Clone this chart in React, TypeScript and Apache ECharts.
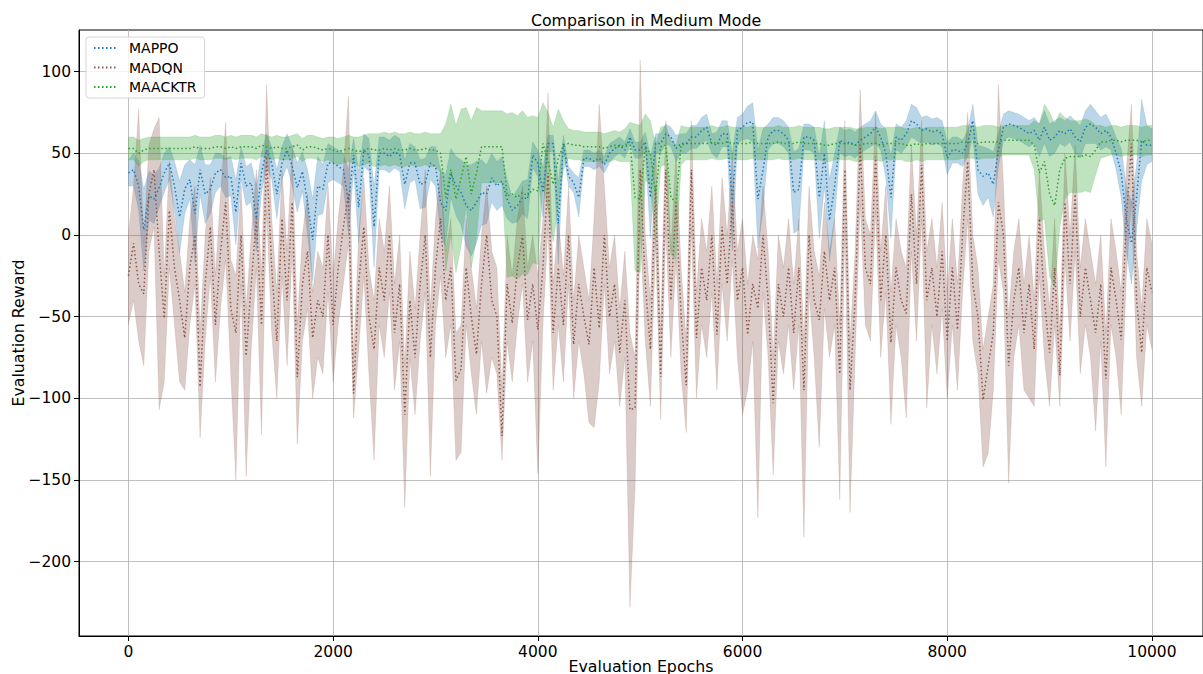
import React, { useEffect, useRef } from "react";
import * as echarts from "echarts";

// Evaluation epochs: one reading every 50 epochs, 0 … 10000
const EPOCH_STEP = 50;

const xTicks = [0, 2000, 4000, 6000, 8000, 10000];
const yTicks = [-200, -150, -100, -50, 0, 50, 100];

const seriesNames = ["MAPPO", "MADQN", "MAACKTR"];

// MAPPO mean reward
const mappoMean = [
  38, 40, 30, 3, 24, 22, 29, 38, 44, 30,
  11, 28, 34, 13, 40, 25, 28, 38, 40, 35,
  36, 14, 44, 30, 32, 10, 38, 52, 44, 25,
  44, 52, 42, 29, 39, 20, -3, 30, 28, 44,
  44, 42, 40, 20, 49, 17, 52, 49, 5, 50,
  50, 48, 51, 49, 31, 44, 44, 31, 32, 44,
  42, 20, 15, 38, 30, 26, 18, 15, 20, 26,
  25, 35, 30, 33, 22, 15, 18, 23, 22, 49,
  44, 26, 56, 56, 7, 56, 36, 32, 23, 47,
  47, 45, 47, 43, 50, 53, 55, 52, 60, 52,
  52, 57, 23, 56, 56, 62, 60, 53, 56, 56,
  60, 60, 64, 66, 56, 55, 62, 62, 20, 64,
  66, 69, 69, 22, 40, 60, 64, 64, 62, 58,
  26, 28, 60, 60, 58, 23, 50, 9, 30, 58,
  56, 57, 55, 58, 60, 62, 66, 60, 50, 23,
  60, 58, 62, 70, 68, 64, 65, 63, 64, 62,
  47, 52, 52, 50, 56, 70, 40, 36, 38, 31,
  52, 66, 68, 67, 66, 64, 62, 64, 58, 66,
  58, 60, 64, 62, 65, 60, 57, 66, 68, 66,
  62, 64, 60, 50, 38, 10, -5, 23, 58, 55,
  55,
];

// MAPPO spread (half width of shaded band)
const mappoStd = [
  8, 10, 15, 25, 15, 15, 12, 12, 10, 15,
  22, 15, 12, 30, 15, 18, 15, 12, 10, 12,
  12, 20, 10, 12, 12, 20, 12, 10, 10, 15,
  10, 10, 12, 15, 12, 20, 25, 18, 15, 12,
  10, 10, 10, 20, 10, 22, 10, 10, 25, 10,
  10, 10, 10, 10, 15, 12, 10, 15, 15, 10,
  12, 20, 22, 15, 18, 20, 25, 28, 25, 20,
  18, 15, 15, 15, 12, 8, 10, 10, 12, 8,
  8, 15, 5, 5, 25, 5, 6, 6, 12, 5,
  5, 5, 5, 5, 6, 5, 5, 5, 5, 5,
  5, 6, 25, 6, 6, 6, 6, 8, 6, 6,
  7, 7, 8, 8, 6, 8, 8, 8, 30, 8,
  8, 10, 12, 30, 25, 8, 8, 8, 8, 8,
  25, 25, 8, 8, 8, 25, 20, 25, 20, 8,
  8, 8, 8, 8, 8, 8, 10, 8, 15, 25,
  8, 8, 8, 10, 10, 8, 8, 8, 8, 8,
  10, 8, 8, 8, 8, 10, 15, 18, 15, 20,
  10, 8, 8, 8, 8, 8, 8, 8, 10, 10,
  10, 10, 8, 8, 8, 10, 10, 10, 12, 10,
  10, 10, 8, 10, 15, 20, 25, 20, 25, 12,
  10,
];

// MADQN mean reward
const madqnMean = [
  -25, -5, -30, -36, 25, 40, -10, -51, 15, -20,
  -40, -63, -20, 0, -93, -30, 5, -55, -10, 20,
  -45, -60, 0, -74, -30, 10, -55, 48, -20, -65,
  10, -40, 20, -87, -30, -10, -63, -40, -50, 0,
  -55, -20, 5, 25, -97, -30, 5, -50, -70, -20,
  -40, 0, -60, -30, -110, -40, -75, -30, 0, -75,
  -20, 10, -40, -20, -89, -82, -20, -50, -73, -30,
  0, -40, -50, -123, -30, -54, -20, 0, -52, -30,
  -58, -20, 38, -60, -20, -55, 0, -67, -30, -50,
  -67, -20, -57, 0, -50, -30, -72, -40, -107, -106,
  40, -30, -70, 30, -87, 40, -40, 20, -50, -92,
  40, -63, -20, -40, 0, -61, 5, -30, 20, -40,
  -20, -61, -30, -45, 0, -40, -103, -30, -50, -20,
  -60, -20, -95, 0, -40, -52, -10, -40, -20, -85,
  40, -95, -40, 54, -20, -30, 48, -40, 0, -66,
  -20, -40, -48, 25, -30, 43, -40, -20, -50, -10,
  -65, -20, -58, 0, 45, -30, -50, -101, -80, -60,
  20, 0, -80, -40, -20, -60, -30, -70, 10, -40,
  -72, -20, -86, 20, -30, 25, -50, -20, -40, -60,
  -30, -88, -20, -40, -64, 10, 56, -40, -72, -20,
  -35,
];

// MADQN lower edge of band
const madqnLow = [
  -55, -40, -65, -80, -10, 5, -107, -90, -20, -55,
  -90, -95, -55, -30, -124, -65, -25, -90, -45, -15,
  -85, -150, -30, -148, -70, -20, -122, 15, -60, -100,
  -25, -80, -10, -128, -65, -45, -100, -75, -85, -35,
  -90, -55, -30, -5, -112, -70, -25, -85, -138, -55,
  -75, -35, -95, -65, -167, -75, -110, -65, -35, -148,
  -55, -25, -75, -55, -138, -133, -55, -85, -110, -65,
  -97, -75, -85, -138, -65, -90, -55, -30, -90, -65,
  -146, -55, 5, -95, -55, -90, -30, -100, -65, -85,
  -115, -118, -90, -30, -85, -65, -105, -75, -228, -154,
  5, -65, -105, -5, -113, 5, -75, -15, -85, -121,
  5, -100, -55, -75, -35, -95, -30, -65, -15, -75,
  -110, -95, -65, -173, -35, -75, -147, -65, -85, -55,
  -95, -55, -185, -35, -75, -130, -45, -75, -55, -162,
  5, -170, -75, 20, -55, -65, 15, -75, -35, -116,
  -55, -75, -112, -10, -65, 10, -106, -55, -85, -45,
  -100, -55, -95, -35, 10, -65, -85, -142, -134, -95,
  -15, -35, -152, -75, -55, -95, -100, -105, -25, -75,
  -105, -55, -105, -15, -65, -10, -85, -55, -75, -120,
  -65, -142, -55, -75, -110, -25, 20, -75, -105, -55,
  -70,
];

// MADQN upper edge of band
const madqnHigh = [
  0, 30, 77, -5, 55, 65, 72, -25, 45, 10,
  -10, -35, 10, 30, -60, 0, 35, -25, 25, 69,
  -15, -25, 30, -45, 0, 40, -25, 92, 10, -35,
  40, -10, 55, -55, 0, 25, -35, -10, -20, 30,
  -25, 10, 40, 85, -75, 0, 35, -20, -40, 10,
  -10, 30, -30, 0, -80, -10, -45, 0, 40, -45,
  10, 40, -10, 10, -60, -55, 10, -20, -45, 0,
  30, -10, -20, -95, 0, -25, 10, 30, -20, 0,
  -25, 10, 87, -30, 10, -25, 30, -40, 0, -20,
  -40, 10, 80, 30, -20, 0, -45, -10, -60, -75,
  107, 0, -40, 60, -60, 70, -10, 50, -20, -65,
  70, -35, 10, -10, 30, -30, 35, 0, 50, -10,
  10, -30, 0, -15, 30, -10, -75, 0, -20, 10,
  -30, 10, -65, 30, -10, -25, 20, -10, 10, -55,
  70, -65, -10, 89, 10, 0, 75, -10, 30, -35,
  10, -10, -20, 55, 0, 70, -10, 10, -20, 20,
  -35, 10, -30, 30, 75, 0, -20, -70, -50, -30,
  92, 30, -50, -10, 10, -30, 0, -40, 40, -10,
  -45, 10, -60, 50, 0, 55, -20, 10, -10, -30,
  0, -60, 10, -10, -35, 40, 80, -10, -45, 10,
  -5,
];

// MAACKTR mean reward
const maacktrMean = [
  53, 53, 50, 52, 53, 53, 53, 53, 53, 53,
  53, 53, 53, 54, 53, 53, 53, 54, 54, 53,
  54, 53, 54, 54, 54, 53, 55, 54, 53, 54,
  53, 53, 54, 55, 52, 54, 54, 53, 52, 53,
  52, 51, 52, 53, 52, 51, 52, 53, 52, 52,
  53, 52, 53, 52, 52, 53, 52, 52, 53, 52,
  52, 50, 23, 40, 22, 35, 48, 25, 38, 54,
  54, 54, 54, 54, 24, 25, 23, 26, 24, 28,
  27, 56, 45, 31, 47, 55, 56, 55, 55, 54,
  54, 54, 54, 53, 54, 55, 54, 55, 57, 23,
  22, 54, 50, 25, 54, 55, 23, 20, 55, 56,
  56, 56, 56, 56, 57, 56, 56, 57, 56, 56,
  56, 56, 57, 56, 56, 56, 56, 57, 56, 56,
  56, 57, 56, 56, 56, 56, 55, 55, 56, 56,
  56, 56, 55, 55, 56, 56, 56, 55, 56, 56,
  56, 56, 55, 55, 56, 55, 56, 56, 56, 56,
  56, 56, 56, 57, 57, 57, 56, 57, 57, 57,
  57, 58, 58, 58, 58, 58, 58, 55, 38, 45,
  25, 18, 40, 47, 48, 48, 48, 49, 48, 52,
  57, 57, 58, 58, 57, 58, 58, 58, 57, 58,
  58,
];

// MAACKTR spread (half width of shaded band)
const maacktrStd = [
  7, 7, 8, 7, 7, 7, 7, 7, 7, 7,
  7, 7, 7, 7, 7, 7, 7, 7, 7, 7,
  7, 7, 7, 7, 7, 7, 7, 7, 7, 7,
  7, 7, 7, 7, 7, 7, 7, 7, 7, 7,
  8, 8, 8, 8, 8, 9, 9, 9, 10, 10,
  10, 10, 10, 10, 10, 10, 10, 10, 10, 10,
  10, 12, 45, 40, 45, 42, 30, 45, 40, 22,
  22, 22, 22, 22, 50, 50, 50, 50, 48, 45,
  45, 25, 30, 35, 30, 15, 9, 9, 9, 9,
  9, 9, 9, 9, 9, 9, 9, 10, 12, 45,
  45, 20, 20, 30, 12, 12, 35, 35, 12, 10,
  10, 10, 10, 10, 10, 10, 10, 10, 10, 10,
  10, 10, 10, 10, 10, 10, 10, 10, 10, 10,
  10, 10, 10, 10, 10, 10, 10, 10, 10, 10,
  10, 10, 10, 10, 10, 10, 10, 10, 10, 10,
  10, 10, 10, 10, 10, 10, 10, 10, 10, 10,
  10, 10, 10, 10, 10, 10, 10, 10, 10, 10,
  9, 9, 9, 9, 9, 9, 9, 15, 30, 35,
  50, 50, 35, 25, 22, 22, 22, 22, 22, 15,
  10, 9, 9, 9, 9, 9, 9, 9, 9, 9,
  9,
];

const COLORS = ["#1f77b4", "#8c564b", "#2ca02c"];
const BAND_COLORS = [
  "rgba(31,119,180,0.3)",
  "rgba(140,86,75,0.3)",
  "rgba(44,160,44,0.3)",
];
const FONT = "DejaVu Sans";

const epochs = mappoMean.map((_, i) => i * EPOCH_STEP);

function bandSeries(name: string, low: number[], high: number[], fill: string) {
  return {
    type: "custom",
    name: name + " band",
    coordinateSystem: "cartesian2d",
    silent: true,
    clip: true,
    z: 1,
    data: [[0, 0]],
    renderItem: (_params: any, api: any) => {
      const pts: number[][] = [];
      for (let i = 0; i < high.length; i++) pts.push(api.coord([epochs[i], high[i]]));
      for (let i = low.length - 1; i >= 0; i--) pts.push(api.coord([epochs[i], low[i]]));
      return {
        type: "polygon",
        shape: { points: pts },
        style: { fill, stroke: fill, lineWidth: 0.5 },
      };
    },
  };
}

function lineSeries(name: string, mean: number[], color: string) {
  return {
    type: "line",
    name,
    data: mean.map((v, i) => [epochs[i], v]),
    showSymbol: false,
    symbol: "none",
    z: 3,
    lineStyle: { color, width: 1.5, type: [1.5, 2.5] },
    itemStyle: { color },
  };
}

export default function App() {
  const ref = useRef<HTMLDivElement>(null);

  useEffect(() => {
    if (!ref.current) return;
    const chart = echarts.init(ref.current, null, { renderer: "svg" });

    const mappoLow = mappoMean.map((v, i) => v - mappoStd[i]);
    const mappoHigh = mappoMean.map((v, i) => v + mappoStd[i]);
    const maacktrLow = maacktrMean.map((v, i) => v - maacktrStd[i]);
    const maacktrHigh = maacktrMean.map((v, i) => v + maacktrStd[i]);

    const minus = (v: number) => String(v).replace("-", "\u2212");

    chart.setOption({
      animation: false,
      backgroundColor: "#ffffff",
      textStyle: { fontFamily: FONT },
      title: {
        text: "Comparison in Medium Mode",
        left: 641,
        textAlign: "center",
        top: 7,
        textStyle: { fontFamily: FONT, fontSize: 15.8, fontWeight: "normal", color: "#000" },
      },
      legend: {
        data: seriesNames,
        orient: "vertical",
        left: 86,
        top: 37,
        padding: [4, 8, 4, 7],
        itemWidth: 24,
        itemHeight: 14,
        itemGap: 5.5,
        itemStyle: { opacity: 0 },
        backgroundColor: "rgba(255,255,255,0.8)",
        borderColor: "#d6d6d6",
        borderWidth: 1,
        borderRadius: 3,
        textStyle: { fontFamily: FONT, fontSize: 14, color: "#000", padding: [0, 0, 0, 6] },
      },
      grid: {
        left: 79,
        right: 0,
        top: 30,
        bottom: 38,
        show: true,
        borderColor: "#000",
        borderWidth: 1,
        containLabel: false,
        outerBoundsMode: "none",
      },
      xAxis: {
        type: "value",
        min: -483,
        max: 10499,
        name: "Evaluation Epochs",
        nameLocation: "middle",
        nameGap: 22,
        nameMoveOverlap: false,
        nameTextStyle: { fontFamily: FONT, fontSize: 15.8, color: "#000" },
        axisLine: { show: true, onZero: false, lineStyle: { color: "#000", width: 1 } },
        axisTick: { show: true, length: 5, lineStyle: { color: "#000", width: 1 }, customValues: xTicks },
        axisLabel: { fontFamily: FONT, fontSize: 15.5, color: "#000", margin: 8, customValues: xTicks, formatter: minus },
        splitLine: { show: true, lineStyle: { color: "#b0b0b0", width: 0.8 } },
      },
      yAxis: {
        type: "value",
        min: -245.5,
        max: 125.5,
        name: "Evaluation Reward",
        nameLocation: "middle",
        nameGap: 53,
        nameMoveOverlap: false,
        nameTextStyle: { fontFamily: FONT, fontSize: 15.8, color: "#000" },
        axisLine: { show: true, onZero: false, lineStyle: { color: "#000", width: 1 } },
        axisTick: { show: true, length: 5, lineStyle: { color: "#000", width: 1 }, customValues: yTicks },
        axisLabel: { fontFamily: FONT, fontSize: 15.5, color: "#000", margin: 8, customValues: yTicks, formatter: minus },
        splitLine: { show: true, lineStyle: { color: "#b0b0b0", width: 0.8 } },
      },
      series: [
        bandSeries("MAPPO", mappoLow, mappoHigh, BAND_COLORS[0]),
        bandSeries("MADQN", madqnLow, madqnHigh, BAND_COLORS[1]),
        bandSeries("MAACKTR", maacktrLow, maacktrHigh, BAND_COLORS[2]),
        lineSeries("MAPPO", mappoMean, COLORS[0]),
        lineSeries("MADQN", madqnMean, COLORS[1]),
        lineSeries("MAACKTR", maacktrMean, COLORS[2]),
      ],
    });

    return () => chart.dispose();
  }, []);

  return (
    <div
      style={{ position: "fixed", left: 0, top: 0, width: 1203, height: 674, background: "#fff", overflow: "hidden" }}
    >
      <div ref={ref} style={{ width: 1203, height: 674 }} />
    </div>
  );
}
